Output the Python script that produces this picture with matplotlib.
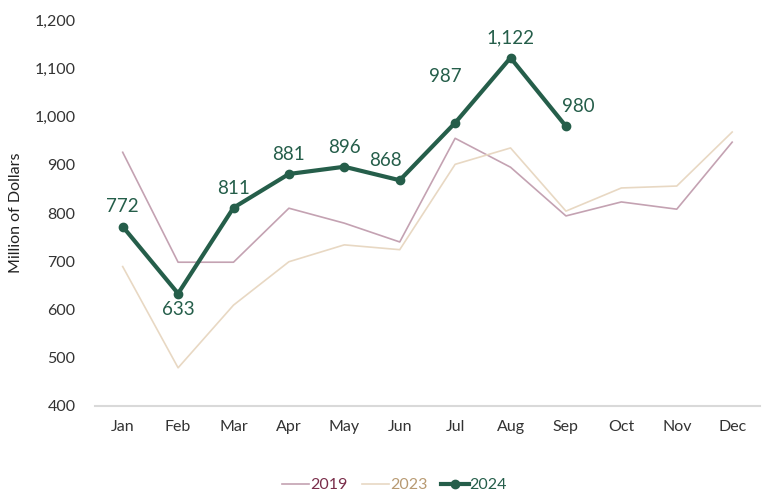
import matplotlib.pyplot as plt
from matplotlib.ticker import FuncFormatter

months = ['Jan', 'Feb', 'Mar', 'Apr', 'May', 'Jun', 'Jul', 'Aug', 'Sep', 'Oct', 'Nov', 'Dec']
sales_2019 = [926, 698, 698, 810, 779, 740, 955, 895, 794, 823, 808, 947]
sales_2023 = [689, 479, 609, 699, 734, 724, 901, 935, 804, 852, 856, 968]
sales_2024 = [772, 633, 811, 881, 896, 868, 987, 1122, 980]

c2019 = '#c4a2b2'
c2023 = '#e8d8c3'
c2024 = '#255e4a'

plt.rcParams['font.family'] = ['Lato', 'DejaVu Sans']

fig = plt.figure(figsize=(7.66, 4.92), dpi=100)
ax = fig.add_axes([0.124, 0.175, 0.868, 0.784])

x = list(range(len(months)))
ax.plot(x, sales_2019, color=c2019, lw=1.2, label='2019')
ax.plot(x, sales_2023, color=c2023, lw=1.2, label='2023')
ax.plot(x[:len(sales_2024)], sales_2024, color=c2024, lw=3, marker='o', ms=6, label='2024')

# label offsets (points); Feb goes below, Jul sits higher to clear the line
offsets = {1: (0, -5), 5: (-10, 8), 6: (-7, 27), 8: (9, 8)}
for i, v in enumerate(sales_2024):
    dx, dy = offsets.get(i, (0, 8))
    ax.annotate(f'{v:,}', (i, v), textcoords='offset points', xytext=(dx, dy),
                ha='center', va='bottom' if dy > 0 else 'top', fontsize=13.5, color=c2024)

ax.set_xlim(-0.5, 11.5)
ax.set_ylim(400, 1200)
ax.set_yticks(range(400, 1201, 100))
ax.yaxis.set_major_formatter(FuncFormatter(lambda v, p: f'{int(v):,}'))
ax.set_xticks(x)
ax.set_xticklabels(months)
ax.tick_params(axis='both', length=0, labelsize=11.5, colors='#333333', pad=10)
ax.tick_params(axis='y', pad=14)
for s in ['top', 'right', 'left']:
    ax.spines[s].set_visible(False)
ax.spines['bottom'].set_color('#d9d9d9')
ax.spines['bottom'].set_linewidth(1.5)
ax.set_ylabel('Million of Dollars', fontsize=11.5, color='#222222', labelpad=8)

leg = fig.legend(loc='lower center', bbox_to_anchor=(0.515, -0.03), ncol=3, frameon=False,
                 fontsize=11.5, handlelength=1.7, handletextpad=0.05, columnspacing=0.9)
for t, c in zip(leg.get_texts(), ['#7a2d4a', '#b89a72', c2024]):
    t.set_color(c)

fig.savefig('out.png', dpi=100)
